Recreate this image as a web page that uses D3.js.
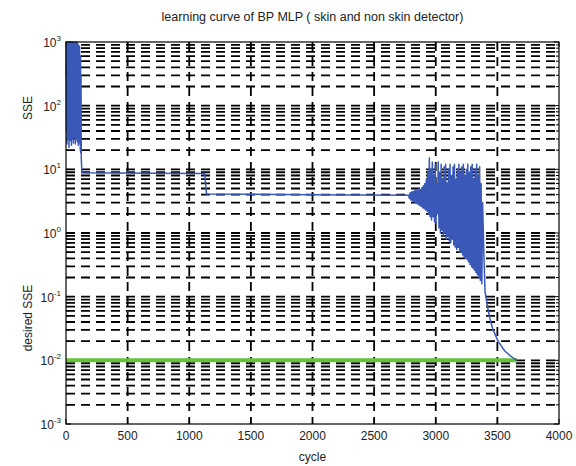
<!DOCTYPE html>
<meta charset="utf-8">
<style>
body { margin: 0; background: #fff; }
text { font-family: "Liberation Sans", Arial, sans-serif; fill: #222; }
.grid line { stroke: #000; stroke-width: 1.8; stroke-dasharray: 9,6; }
.tick-mark { stroke: #000; stroke-width: 1; }
</style>
<body>
<script src="https://cdn.jsdelivr.net/npm/d3@7"></script>
<script>
var W = 576, H = 466
var margin = { top: 42, right: 17, bottom: 42, left: 66 }

var titleText = 'learning curve of BP MLP ( skin and non skin detector)'
var xTicks = [0, 500, 1000, 1500, 2000, 2500, 3000, 3500, 4000]
var yDecades = [-3, -2, -1, 0, 1, 2, 3]

// training SSE per cycle
var cycle = [0, 2, 4, 6, 8, 10, 12, 14, 16, 18, 20, 22, 24, 26, 28, 30, 32, 34, 36, 38,
    40, 42, 44, 46, 48, 50, 52, 54, 56, 58, 60, 62, 64, 66, 68, 70, 72, 74, 76, 78,
    80, 82, 84, 86, 88, 90, 92, 94, 96, 98, 100, 102, 104, 106, 108, 110, 112, 114, 116, 118,
    120, 122, 124, 126, 130, 700, 1125, 1140, 2000, 2780,
    2786, 2792, 2798, 2804, 2810, 2816, 2822, 2828, 2834, 2840, 2846, 2852, 2858, 2864, 2870,
    2876, 2882, 2888, 2894, 2900, 2906, 2912, 2918, 2924, 2930, 2936, 2942, 2948, 2954, 2960,
    2966, 2972, 2978, 2984, 2990, 2996, 3002, 3008, 3014, 3020, 3026, 3032, 3038, 3044, 3050,
    3056, 3062, 3068, 3074, 3080, 3086, 3092, 3098, 3104, 3110, 3116, 3122, 3128, 3134, 3140,
    3146, 3152, 3158, 3164, 3170, 3176, 3182, 3188, 3194, 3200, 3206, 3212, 3218, 3224, 3230,
    3236, 3242, 3248, 3254, 3260, 3266, 3272, 3278, 3284, 3290, 3296, 3302, 3308, 3314, 3320,
    3326, 3332, 3338, 3344, 3350, 3356, 3362, 3368, 3374, 3380, 3390, 3400, 3420, 3440, 3460,
    3480, 3500, 3530, 3560, 3600, 3640, 3660]
var sse = [300, 1000, 40, 950, 25, 1000, 60, 900, 30, 1000, 80, 850, 22, 980, 50, 1000, 35, 700, 28, 990,
    90, 920, 24, 1000, 45, 800, 30, 960, 70, 1000, 26, 880, 40, 990, 32, 750, 60, 1000, 25, 940,
    48, 870, 30, 1000, 55, 820, 27, 960, 38, 700, 24, 900, 42, 640, 26, 850, 35, 520, 20, 600,
    18, 300, 15, 12, 8.8, 8.7, 8.6, 4.1, 4.0, 3.9,
    3.5, 4.3, 3.3, 4.4, 3.2, 4.5, 3.1, 4.6, 3.0, 4.8, 2.9, 4.6, 2.8, 5.0, 2.7,
    4.8, 2.6, 5.2, 2.5, 5.5, 2.4, 6, 2.3, 7, 2.2, 9, 2.0, 15, 1.8, 10,
    1.6, 13, 1.8, 8, 1.5, 12, 1.4, 6, 2.0, 13, 1.2, 9, 1.0, 12, 1.1,
    7, 0.9, 11, 1.0, 12, 0.8, 6, 0.9, 10, 0.75, 12, 0.7, 8, 0.8, 11,
    0.65, 12, 0.6, 7, 0.55, 10, 0.6, 12, 0.5, 9, 0.5, 11, 0.45, 12, 0.42,
    8, 0.4, 10, 0.38, 12, 0.35, 9, 0.32, 11, 0.3, 12, 0.28, 7, 0.26, 10,
    0.24, 12, 0.22, 8, 0.2, 11, 0.18, 6, 0.16, 3, 0.5, 0.12, 0.07, 0.045, 0.032,
    0.026, 0.021, 0.017, 0.014, 0.012, 0.0105, 0.01]

var desiredCycle = [0, 3660]
var desiredSSE = [0.01, 0.01]

var svg = d3.select('body').append('svg')
    .attr('width', W).attr('height', H)

var x = d3.scaleLinear().domain([0, 4000]).range([margin.left, W - margin.right])
var y = d3.scaleLog().domain([1e-3, 1e3]).range([H - margin.bottom, margin.top])

var x0 = x.range()[0], x1 = x.range()[1]
var yTop = y.range()[1], yBot = y.range()[0]

// minor values 1..9 x 10^k
var minor = []
yDecades.slice(0, -1).forEach(function (k) {
    for (var m = 1; m < 10; m++) minor.push(m * Math.pow(10, k))
})
minor.push(1e3)

var grid = svg.append('g').attr('class', 'grid')
grid.selectAll('.h').data(minor.filter(function (v) { return v > 1e-3 && v < 1e3 }))
    .enter().append('line')
    .attr('x1', x0).attr('x2', x1)
    .attr('y1', function (d) { return y(d) }).attr('y2', function (d) { return y(d) })
grid.selectAll('.v').data(xTicks.slice(1, -1))
    .enter().append('line')
    .attr('x1', function (d) { return x(d) }).attr('x2', function (d) { return x(d) })
    .attr('y1', yTop).attr('y2', yBot)

// ticks
var ticks = svg.append('g')
xTicks.forEach(function (d) {
    ticks.append('line').attr('class', 'tick-mark')
        .attr('x1', x(d)).attr('x2', x(d)).attr('y1', yBot).attr('y2', yBot - 5)
    ticks.append('line').attr('class', 'tick-mark')
        .attr('x1', x(d)).attr('x2', x(d)).attr('y1', yTop).attr('y2', yTop + 5)
})
minor.forEach(function (d) {
    var len = (Math.log10(d) % 1 === 0) ? 5 : 3
    ticks.append('line').attr('class', 'tick-mark')
        .attr('x1', x0).attr('x2', x0 + len).attr('y1', y(d)).attr('y2', y(d))
    ticks.append('line').attr('class', 'tick-mark')
        .attr('x1', x1).attr('x2', x1 - len).attr('y1', y(d)).attr('y2', y(d))
})

// desired SSE
var line = d3.line()
    .x(function (d) { return x(d[0]) })
    .y(function (d) { return y(d[1]) })

svg.append('path')
    .datum(d3.zip(desiredCycle, desiredSSE))
    .attr('d', line)
    .attr('fill', 'none')
    .attr('stroke', '#66c23a')
    .attr('stroke-width', 4)

svg.append('path')
    .datum(d3.zip(cycle, sse))
    .attr('d', line)
    .attr('fill', 'none')
    .attr('stroke', '#3a58b8')
    .attr('stroke-width', 1.5)
    .attr('stroke-linejoin', 'round')

// box
svg.append('rect')
    .attr('x', x0).attr('y', yTop)
    .attr('width', x1 - x0).attr('height', yBot - yTop)
    .attr('fill', 'none').attr('stroke', '#000').attr('stroke-width', 1.2)

// tick labels
svg.selectAll('.xl').data(xTicks).enter().append('text')
    .attr('x', function (d) { return x(d) }).attr('y', yBot + 16)
    .attr('text-anchor', 'middle').attr('font-size', 12)
    .text(function (d) { return d })

var yl = svg.selectAll('.yl').data(yDecades).enter().append('text')
    .attr('x', x0 - 5).attr('y', function (d) { return y(Math.pow(10, d)) + 5 })
    .attr('text-anchor', 'end').attr('font-size', 12)
yl.append('tspan').text('10')
yl.append('tspan').attr('dy', -6).attr('font-size', 8).text(function (d) { return d })

// titles
svg.append('text').attr('x', (x0 + x1) / 2).attr('y', 21)
    .attr('text-anchor', 'middle').attr('font-size', 12.5).text(titleText)
svg.append('text').attr('x', (x0 + x1) / 2).attr('y', 461)
    .attr('text-anchor', 'middle').attr('font-size', 12).text('cycle')
svg.append('text').attr('transform', 'translate(32,108) rotate(-90)')
    .attr('text-anchor', 'middle').attr('font-size', 12).text('SSE')
svg.append('text').attr('transform', 'translate(32,318) rotate(-90)')
    .attr('text-anchor', 'middle').attr('font-size', 12).text('desired SSE')
</script>
</body>
